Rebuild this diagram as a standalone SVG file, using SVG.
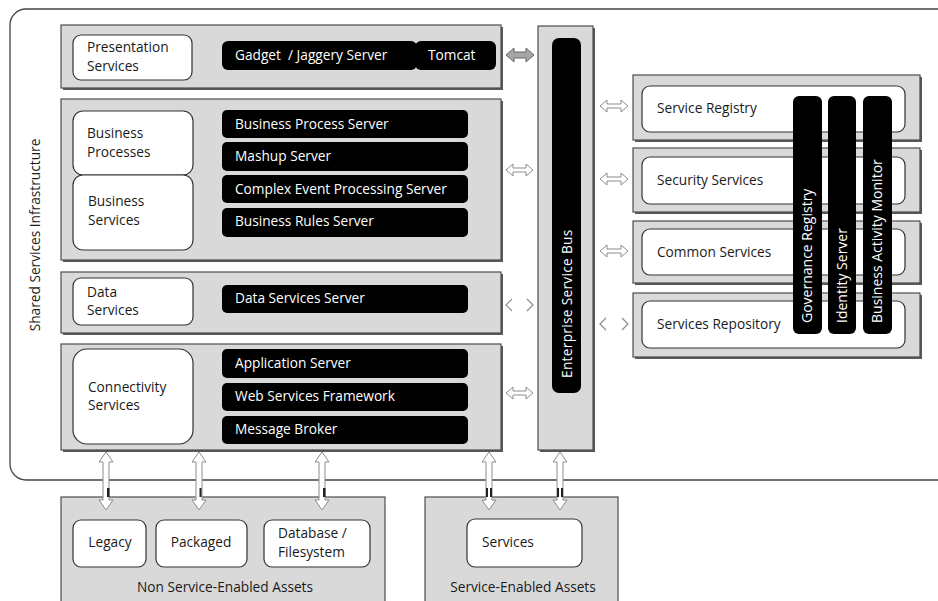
<svg xmlns="http://www.w3.org/2000/svg" width="938" height="601" viewBox="0 0 938 601">
  <defs>
    <style>
      text { font-family: "Open Sans", "Liberation Sans", sans-serif; font-size: 13.7px; fill: #1a1a1a; }
      .layer { fill: #d9d9d9; stroke: #4d4d4d; stroke-width: 1.2; }
      .shadow { fill: #5a5a5a; }
      .card { fill: #ffffff; stroke: #333333; stroke-width: 1.2; }
      .bar { fill: #000000; }
      .wt { fill: #ffffff; }
      .vbar { font-size: 14px; }
      .hollow { fill: #ffffff; stroke: #8c8c8c; stroke-width: 1; }
      .chev { fill: none; stroke: #8c8c8c; stroke-width: 1.2; }
      .solid { fill: #a6a6a6; stroke: #666666; stroke-width: 1; }
      .tick { fill: #222222; }
      .frame { fill: none; stroke: #444444; stroke-width: 1.3; }
    </style>
  </defs>

  <rect x="0" y="0" width="938" height="601" fill="#ffffff"/>

  <!-- infrastructure frame (open on the right) -->
  <g id="infrastructure">
    <rect class="frame" x="10" y="9" width="1000" height="471" rx="16"/>
    <text transform="translate(40,235) rotate(-90)" text-anchor="middle" font-size="13.8">Shared Services Infrastructure</text>
  </g>

  <!-- presentation layer -->
  <g id="presentation-layer">
    <rect class="shadow" x="63" y="27" width="440" height="63"/>
    <rect class="layer" x="61" y="25" width="440" height="63"/>
    <rect class="card" x="73" y="35" width="119" height="45" rx="8"/>
    <text x="87" y="52">Presentation</text>
    <text x="87" y="71">Services</text>
    <rect class="bar" x="222" y="41" width="195" height="29" rx="6"/>
    <rect class="bar" x="415" y="41" width="81" height="29" rx="6"/>
    <text class="wt" x="235" y="60" font-size="14.5" style="white-space:pre">Gadget  / Jaggery Server</text>
    <text class="wt" x="428" y="60" font-size="14.5">Tomcat</text>
  </g>

  <!-- business layer -->
  <g id="business-layer">
    <rect class="shadow" x="63" y="101" width="440" height="161"/>
    <rect class="layer" x="61" y="99" width="440" height="161"/>
    <rect class="card" x="73" y="111" width="120" height="64" rx="10"/>
    <rect class="card" x="73" y="175" width="120" height="75" rx="10"/>
    <text x="87" y="138">Business</text>
    <text x="87" y="157">Processes</text>
    <text x="88" y="206">Business</text>
    <text x="88" y="225">Services</text>
    <rect class="bar" x="222" y="110" width="246" height="28" rx="5"/>
    <rect class="bar" x="222" y="142" width="246" height="29" rx="5"/>
    <rect class="bar" x="222" y="175" width="246" height="28" rx="5"/>
    <rect class="bar" x="222" y="208" width="246" height="29" rx="5"/>
    <text class="wt" x="235" y="129">Business Process Server</text>
    <text class="wt" x="235" y="161">Mashup Server</text>
    <text class="wt" x="235" y="194">Complex Event Processing Server</text>
    <text class="wt" x="235" y="226">Business Rules Server</text>
  </g>

  <!-- data layer -->
  <g id="data-layer">
    <rect class="shadow" x="63" y="274" width="440" height="61"/>
    <rect class="layer" x="61" y="272" width="440" height="61"/>
    <rect class="card" x="73" y="278" width="120" height="47" rx="8"/>
    <text x="87" y="297">Data</text>
    <text x="87" y="315">Services</text>
    <rect class="bar" x="222" y="285" width="246" height="28" rx="5"/>
    <text class="wt" x="235" y="303">Data Services Server</text>
  </g>

  <!-- connectivity layer -->
  <g id="connectivity-layer">
    <rect class="shadow" x="63" y="346" width="440" height="106"/>
    <rect class="layer" x="61" y="344" width="440" height="106"/>
    <rect class="card" x="73" y="349" width="120" height="95" rx="14"/>
    <text x="88" y="392">Connectivity</text>
    <text x="88" y="410">Services</text>
    <rect class="bar" x="222" y="349" width="246" height="29" rx="5"/>
    <rect class="bar" x="222" y="383" width="246" height="28" rx="5"/>
    <rect class="bar" x="222" y="416" width="246" height="28" rx="5"/>
    <text class="wt" x="235" y="368">Application Server</text>
    <text class="wt" x="235" y="401">Web Services Framework</text>
    <text class="wt" x="235" y="434">Message Broker</text>
  </g>

  <!-- enterprise service bus -->
  <g id="esb">
    <rect class="shadow" x="540" y="28" width="55" height="424"/>
    <rect class="layer" x="538" y="26" width="55" height="424"/>
    <rect class="bar" x="552" y="38" width="29" height="355" rx="7"/>
    <text class="wt" transform="translate(572,378) rotate(-90)" font-size="15" letter-spacing="0.3">Enterprise Service Bus</text>
  </g>

  <!-- governance side -->
  <g id="service-registry">
    <rect class="shadow" x="635" y="77" width="287" height="65"/>
    <rect class="layer" x="633" y="75" width="287" height="65"/>
    <rect class="card" x="642" y="86" width="263" height="46" rx="8"/>
    <text x="657" y="113">Service Registry</text>
  </g>
  <g id="security-services">
    <rect class="shadow" x="635" y="150" width="287" height="64"/>
    <rect class="layer" x="633" y="148" width="287" height="64"/>
    <rect class="card" x="642" y="157" width="263" height="47" rx="8"/>
    <text x="657" y="185">Security Services</text>
  </g>
  <g id="common-services">
    <rect class="shadow" x="635" y="223" width="287" height="62"/>
    <rect class="layer" x="633" y="221" width="287" height="62"/>
    <rect class="card" x="642" y="229" width="263" height="46" rx="8"/>
    <text x="657" y="257">Common Services</text>
  </g>
  <g id="services-repository">
    <rect class="shadow" x="635" y="295" width="287" height="64"/>
    <rect class="layer" x="633" y="293" width="287" height="64"/>
    <rect class="card" x="642" y="301" width="263" height="47" rx="8"/>
    <text x="657" y="329">Services Repository</text>
  </g>
  <g id="governance-registry">
    <rect class="bar" x="793" y="96" width="29" height="238" rx="6"/>
    <text class="wt vbar" transform="translate(812,323) rotate(-90)">Governance Registry</text>
  </g>
  <g id="identity-server">
    <rect class="bar" x="828" y="96" width="28" height="238" rx="6"/>
    <text class="wt vbar" transform="translate(847,323) rotate(-90)">Identity Server</text>
  </g>
  <g id="business-activity-monitor">
    <rect class="bar" x="863" y="96" width="29" height="238" rx="6"/>
    <text class="wt vbar" transform="translate(882,323) rotate(-90)">Business Activity Monitor</text>
  </g>

  <!-- asset groups -->
  <g id="non-service-enabled-assets">
    <rect class="layer" x="61" y="497" width="324" height="110"/>
    <rect class="card" x="73" y="520" width="73" height="47" rx="8"/>
    <rect class="card" x="156" y="520" width="91" height="47" rx="8"/>
    <rect class="card" x="264" y="520" width="106" height="47" rx="8"/>
    <text x="110" y="547" text-anchor="middle">Legacy</text>
    <text x="201" y="547" text-anchor="middle">Packaged</text>
    <text x="278" y="538">Database /</text>
    <text x="278" y="557">Filesystem</text>
    <text x="225" y="592" text-anchor="middle">Non Service-Enabled Assets</text>
  </g>
  <g id="service-enabled-assets">
    <rect class="layer" x="425" y="497" width="193" height="110"/>
    <rect class="card" x="467" y="519" width="115" height="48" rx="8"/>
    <text x="482" y="547">Services</text>
    <text x="523" y="592" text-anchor="middle">Service-Enabled Assets</text>
  </g>

  <!-- connectors -->
  <g id="connectors">
    <!-- layers to bus -->
    <path class="solid" d="M506,55 L514,48 L514,52 L526,52 L526,48 L534,55 L526,62 L526,58 L514,58 L514,62 Z"/>
    <path class="hollow" d="M506,170 L513,164 L513,168 L526,168 L526,164 L533,170 L526,176 L526,172 L513,172 L513,176 Z"/>
    <path class="chev" d="M512,299 L506,305 L512,311 M527,299 L533,305 L527,311"/>
    <path class="hollow" d="M506,393 L513,387 L513,391 L526,391 L526,387 L533,393 L526,399 L526,395 L513,395 L513,399 Z"/>
    <!-- bus to governance services -->
    <path class="hollow" d="M600,106 L607,100 L607,104 L621,104 L621,100 L628,106 L621,112 L621,108 L607,108 L607,112 Z"/>
    <path class="hollow" d="M600,179 L607,173 L607,177 L621,177 L621,173 L628,179 L621,185 L621,181 L607,181 L607,185 Z"/>
    <path class="hollow" d="M600,251 L607,245 L607,249 L621,249 L621,245 L628,251 L621,257 L621,253 L607,253 L607,257 Z"/>
    <path class="chev" d="M606,318 L600,324 L606,330 M622,318 L628,324 L622,330"/>
    <!-- infrastructure to assets -->
    <path class="hollow" d="M106,452 L113,462 L109,462 L109,500 L113,500 L106,510 L99,500 L103,500 L103,462 L99,462 Z"/>
    <path class="hollow" d="M199,452 L206,462 L202,462 L202,500 L206,500 L199,510 L192,500 L196,500 L196,462 L192,462 Z"/>
    <path class="hollow" d="M322,452 L329,462 L325,462 L325,500 L329,500 L322,510 L315,500 L319,500 L319,462 L315,462 Z"/>
    <path class="hollow" d="M489,452 L496,462 L492,462 L492,500 L496,500 L489,510 L482,500 L486,500 L486,462 L482,462 Z"/>
    <path class="hollow" d="M560,452 L567,462 L563,462 L563,500 L567,500 L560,510 L553,500 L557,500 L557,462 L553,462 Z" stroke="#555555"/>
    <rect class="tick" x="107" y="488" width="2.5" height="9"/>
    <rect class="tick" x="199.5" y="488" width="2" height="9"/>
    <rect class="tick" x="323" y="488" width="2.5" height="9"/>
    <rect class="tick" x="486" y="488" width="2" height="9"/>
    <rect class="tick" x="490" y="488" width="2" height="9"/>
    <rect class="tick" x="557" y="488" width="2" height="9"/>
    <rect class="tick" x="561" y="488" width="2" height="9"/>
  </g>
</svg>
